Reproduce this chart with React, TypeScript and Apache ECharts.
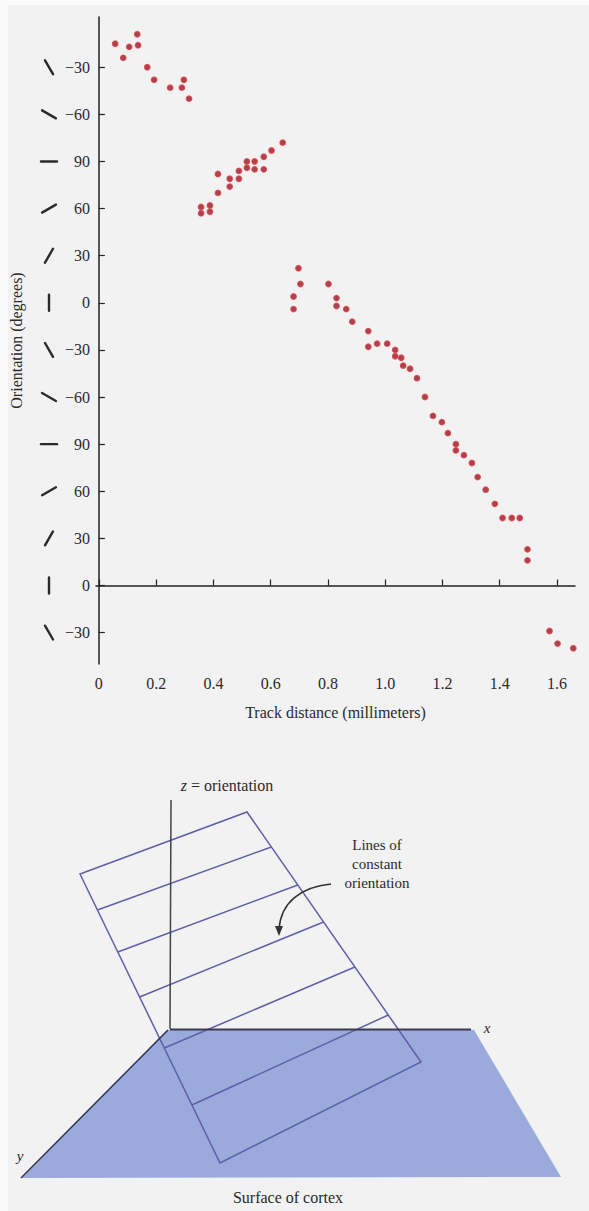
import React, { useEffect, useRef } from "react";
import * as echarts from "echarts";

// ---------- data ----------
const trackDistance = [
  0.057, 0.085, 0.106, 0.134, 0.137, 0.169, 0.193, 0.249, 0.29, 0.297,
  0.315, 0.357, 0.357, 0.388, 0.388, 0.416, 0.416, 0.457, 0.457, 0.489,
  0.489, 0.517, 0.517, 0.544, 0.544, 0.576, 0.576, 0.603, 0.642, 0.697,
  0.704, 0.68, 0.68, 0.802, 0.83, 0.83, 0.864, 0.885, 0.941, 0.941,
  0.972, 1.007, 1.035, 1.035, 1.056, 1.063, 1.087, 1.111, 1.139, 1.167,
  1.198, 1.219, 1.247, 1.247, 1.275, 1.303, 1.323, 1.351, 1.383, 1.41,
  1.442, 1.47, 1.497, 1.497, 1.574, 1.602, 1.657,
];
// cumulative orientation (degrees), increasing upward
const orientation = [
  345, 336, 343, 351, 344, 330, 322, 317, 317, 322,
  310, 241, 237, 242, 238, 262, 250, 259, 254, 264,
  259, 270, 266, 270, 265, 273, 265, 277, 282, 202,
  192, 184, 176, 192, 183, 178, 176, 168, 162, 152,
  154, 154, 150, 146, 145, 140, 138, 132, 120, 108,
  104, 97, 90, 86, 83, 78, 69, 61, 52, 43,
  43, 43, 23, 16, -29, -37, -40,
];

const xTickValues = [0, 0.2, 0.4, 0.6, 0.8, 1.0, 1.2, 1.4, 1.6];
const xTickLabels = ["0", "0.2", "0.4", "0.6", "0.8", "1.0", "1.2", "1.4", "1.6"];
const yTickValues = [-30, 0, 30, 60, 90, 120, 150, 180, 210, 240, 270, 300, 330];
const yTickLabels = ["\u221230", "0", "30", "60", "90", "\u221260", "\u221230", "0", "30", "60", "90", "\u221260", "\u221230"];
const barAngles = [-30, 0, 30, 60, 90, -60, -30, 0, 30, 60, 90, -60, -30];

const X_MIN = -0.01;
const X_MAX = 1.663;
const Y_MIN = -50;
const Y_MAX = 362;

const SERIF = "'Liberation Serif', 'DejaVu Serif', serif";
const TEXT = "#2a2a2a";

function lookup(values: number[], labels: string[], v: number) {
  for (let i = 0; i < values.length; i++) {
    if (Math.abs(values[i] - v) < 1e-6) return labels[i];
  }
  return "";
}

// ---------- diagram geometry (illustration) ----------
const planeTL = [80, 874];
const planeTR = [247, 812];
const planeBR = [421, 1062];
const planeBL = [220, 1163];
const planeLeftYs = [910, 952, 997, 1048, 1105];
const planeRightYs = [847, 885, 922, 967, 1015];

function leftX(y: number) {
  return planeTL[0] + ((y - planeTL[1]) * (planeBL[0] - planeTL[0])) / (planeBL[1] - planeTL[1]);
}
function rightX(y: number) {
  return planeTR[0] + ((y - planeTR[1]) * (planeBR[0] - planeTR[0])) / (planeBR[1] - planeTR[1]);
}

export default function App() {
  const ref = useRef<HTMLDivElement>(null);

  useEffect(() => {
    document.body.style.margin = "0";
    if (!ref.current) return;
    const chart = echarts.init(ref.current, null, { renderer: "svg" });

    const planeColor = "#5e5fa8";
    const graphic: any[] = [
      { type: "rect", z: -10, shape: { x: 0, y: 0, width: 8, height: 1211 }, style: { fill: "#fbfbfb" }, silent: true },
      { type: "rect", z: -10, shape: { x: 0, y: 0, width: 589, height: 5 }, style: { fill: "#fbfbfb" }, silent: true },
      // surface of cortex
      {
        type: "polygon",
        z: 1,
        shape: { points: [[167, 1030], [474, 1030], [561, 1177], [22, 1178]] },
        style: { fill: "#9aaadb", stroke: null },
      },
      // tilted plane outline
      {
        type: "polygon",
        z: 2,
        shape: { points: [planeTL, planeTR, planeBR, planeBL] },
        style: { fill: null, stroke: planeColor, lineWidth: 1.5 },
      },
      ...planeLeftYs.map((ly, i) => ({
        type: "line",
        z: 2,
        shape: { x1: leftX(ly), y1: ly, x2: rightX(planeRightYs[i]), y2: planeRightYs[i] },
        style: { stroke: planeColor, lineWidth: 1.5 },
      })),
      // z axis
      { type: "line", z: 3, shape: { x1: 171, y1: 800, x2: 170, y2: 1029 }, style: { stroke: "#444", lineWidth: 1.5 } },
      // x axis
      { type: "line", z: 3, shape: { x1: 170, y1: 1029.5, x2: 471, y2: 1029.5 }, style: { stroke: "#3a3c55", lineWidth: 2 } },
      // y axis
      { type: "line", z: 3, shape: { x1: 168, y1: 1030, x2: 21, y2: 1178 }, style: { stroke: "#2e3352", lineWidth: 1.5 } },
      // arrow curve
      {
        type: "bezierCurve",
        z: 3,
        shape: { x1: 331, y1: 884, cpx1: 300, cpy1: 887, cpx2: 281, cpy2: 903, x2: 279, y2: 929 },
        style: { stroke: "#333", lineWidth: 1.5, fill: null },
      },
      { type: "polygon", z: 3, shape: { points: [[275, 926], [283, 926], [279, 936]] }, style: { fill: "#333" } },
      // texts
      {
        type: "text",
        z: 4,
        x: 227,
        y: 785,
        style: {
          text: "{i|z} = orientation",
          align: "center",
          verticalAlign: "middle",
          font: `16px ${SERIF}`,
          fill: TEXT,
          rich: { i: { fontStyle: "italic", fontFamily: SERIF, fontSize: 16, fill: TEXT } },
        },
      },
      {
        type: "text",
        z: 4,
        x: 377,
        y: 864,
        style: {
          text: "Lines of\nconstant\norientation",
          align: "center",
          verticalAlign: "middle",
          font: `15px ${SERIF}`,
          lineHeight: 19,
          fill: TEXT,
        },
      },
      {
        type: "text",
        z: 4,
        x: 487,
        y: 1028,
        style: { text: "x", align: "center", verticalAlign: "middle", font: `italic 15px ${SERIF}`, fill: TEXT },
      },
      {
        type: "text",
        z: 4,
        x: 20,
        y: 1156,
        style: { text: "y", align: "center", verticalAlign: "middle", font: `italic 15px ${SERIF}`, fill: TEXT },
      },
      {
        type: "text",
        z: 4,
        x: 288,
        y: 1197,
        style: { text: "Surface of cortex", align: "center", verticalAlign: "middle", font: `16px ${SERIF}`, fill: TEXT },
      },
    ];

    chart.setOption({
      animation: false,
      backgroundColor: "#f2f2f2",
      textStyle: { fontFamily: SERIF },
      grid: { left: 94, right: 14, top: 17, bottom: 547 },
      xAxis: {
        type: "value",
        min: X_MIN,
        max: X_MAX,
        name: "Track distance (millimeters)",
        nameLocation: "middle",
        nameGap: 40,
        nameTextStyle: { fontFamily: SERIF, fontSize: 16, color: TEXT },
        axisLine: { show: true, lineStyle: { color: "#222", width: 1.5 } },
        axisTick: { show: true, inside: true, length: 6, customValues: xTickValues, lineStyle: { color: "#222", width: 1.2 } },
        axisLabel: {
          customValues: xTickValues,
          margin: 11,
          fontFamily: SERIF,
          fontSize: 16,
          color: TEXT,
          formatter: (v: number) => lookup(xTickValues, xTickLabels, v),
        },
        splitLine: { show: false },
      },
      yAxis: {
        type: "value",
        min: Y_MIN,
        max: Y_MAX,
        name: "Orientation (degrees)",
        nameLocation: "middle",
        nameGap: 72,
        nameRotate: 90,
        nameTextStyle: { fontFamily: SERIF, fontSize: 16, color: TEXT },
        axisLine: { show: true, lineStyle: { color: "#222", width: 1.5 } },
        axisTick: { show: true, inside: true, length: 6, customValues: yTickValues, lineStyle: { color: "#222", width: 1.2 } },
        axisLabel: {
          customValues: yTickValues,
          margin: 6,
          fontFamily: SERIF,
          fontSize: 16,
          color: TEXT,
          formatter: (v: number) => lookup(yTickValues, yTickLabels, v),
        },
        splitLine: { show: false },
      },
      series: [
        {
          type: "scatter",
          data: trackDistance.map((x, i) => [x, orientation[i]]),
          symbol: "circle",
          symbolSize: 5.5,
          itemStyle: { color: "#8e1a2c", borderColor: "#e23a3f", borderWidth: 1.3 },
          silent: true,
        },
        {
          type: "custom",
          silent: true,
          clip: false,
          z: 5,
          data: yTickValues.map((v, i) => [X_MIN, v, barAngles[i]]),
          renderItem: (params: any, api: any) => {
            const p = api.coord([api.value(0), api.value(1)]);
            const th = (api.value(2) * Math.PI) / 180;
            const cx = p[0] - 47;
            const cy = p[1];
            const L = 8;
            const dx = Math.sin(th) * L;
            const dy = -Math.cos(th) * L;
            return {
              type: "line",
              shape: { x1: cx - dx, y1: cy - dy, x2: cx + dx, y2: cy + dy },
              style: { stroke: "#2a2a2a", lineWidth: 2.4, lineCap: "round" },
            };
          },
        },
      ],
      graphic,
    });

    return () => {
      chart.dispose();
    };
  }, []);

  return <div ref={ref} style={{ width: 589, height: 1211 }} />;
}
